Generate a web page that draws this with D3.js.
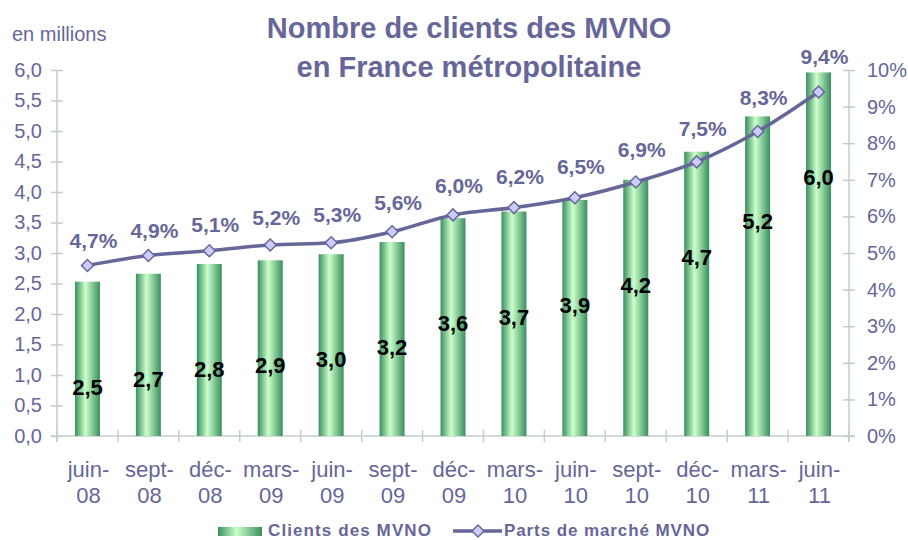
<!DOCTYPE html>
<html>
<head>
<meta charset="utf-8">
<script src="https://cdn.jsdelivr.net/npm/d3@7"></script>
<style>
  html, body { margin: 0; padding: 0; background: #fff; }
  svg { display: block; font-family: "Liberation Sans", Arial, sans-serif; }
</style>
</head>
<body>
<div class="container"></div>
<script>
const categories = ["juin-08", "sept-08", "déc-08", "mars-09", "juin-09", "sept-09", "déc-09",
  "mars-10", "juin-10", "sept-10", "déc-10", "mars-11", "juin-11"];
const clients = [2.53, 2.66, 2.82, 2.88, 2.98, 3.18, 3.57, 3.68, 3.87, 4.20, 4.66, 5.24, 5.96];
const parts = [4.66, 4.93, 5.06, 5.22, 5.28, 5.58, 6.04, 6.24, 6.51, 6.94, 7.49, 8.32, 9.40];
const leftTicks = [0, 0.5, 1, 1.5, 2, 2.5, 3, 3.5, 4, 4.5, 5, 5.5, 6];
const rightTicks = [0, 1, 2, 3, 4, 5, 6, 7, 8, 9, 10];
const titleLines = ["Nombre de clients des MVNO", "en France métropolitaine"];
const seriesNames = ["Clients des MVNO", "Parts de marché MVNO"];

const width = 908, height = 540;
const margin = { left: 57, right: 59, top: 70, bottom: 104 };
const textColor = "#666699";
const axisColor = "#c3cdcd";
const fr = d3.formatLocale({ decimal: ",", thousands: " ", grouping: [3], currency: ["", "€"] });
const fmt1 = fr.format(".1f");

function createChart() {
  const svg = d3.select(".container").append("svg")
    .attr("width", width).attr("height", height);

  const defs = svg.append("defs");
  const grad = defs.append("linearGradient").attr("id", "barGrad")
    .attr("x1", "0%").attr("x2", "100%").attr("y1", "0%").attr("y2", "0%");
  grad.append("stop").attr("offset", "0%").attr("stop-color", "#3a8f5e");
  grad.append("stop").attr("offset", "42%").attr("stop-color", "#ccffcc");
  grad.append("stop").attr("offset", "100%").attr("stop-color", "#3a8f5e");

  const x = d3.scaleBand().domain(categories)
    .range([margin.left, width - margin.right]).padding(0);
  const y = d3.scaleLinear().domain([0, 6]).range([height - margin.bottom, margin.top]);
  const yR = d3.scaleLinear().domain([0, 10]).range([height - margin.bottom, margin.top]);
  const y0 = height - margin.bottom;

  // title
  svg.append("g").selectAll("text").data(titleLines).enter().append("text")
    .attr("x", 469).attr("y", (d, i) => 38 + i * 39)
    .attr("text-anchor", "middle")
    .attr("fill", textColor).attr("font-weight", "bold").attr("font-size", 29)
    .text(d => d);

  svg.append("text").attr("x", 12).attr("y", 41)
    .attr("fill", textColor).attr("font-size", 20).text("en millions");

  // left axis
  const yAxis = d3.axisLeft(y).tickValues(leftTicks).tickFormat(fmt1)
    .tickSizeInner(6).tickSizeOuter(0).tickPadding(9);
  const gL = svg.append("g").attr("transform", `translate(${margin.left},0)`).call(yAxis);
  gL.selectAll(".tick line").attr("x2", -6).attr("x1", 6);

  // right axis
  const yAxisR = d3.axisRight(yR).tickValues(rightTicks).tickFormat(d => d + "%")
    .tickSizeInner(6).tickSizeOuter(0).tickPadding(12);
  const gR = svg.append("g").attr("transform", `translate(${width - margin.right},0)`).call(yAxisR);
  gR.selectAll(".tick line").attr("x1", -6).attr("x2", 6);

  [gL, gR].forEach(g => {
    g.select(".domain").attr("stroke", axisColor).attr("stroke-width", 1.5)
      .attr("d", `M0,${margin.top}V${y0 + 6}`);
    g.selectAll(".tick line").attr("stroke", axisColor).attr("stroke-width", 1.5);
    g.selectAll(".tick text").attr("fill", textColor).attr("font-size", 20)
      .attr("font-family", "Liberation Sans, Arial, sans-serif");
  });

  // x axis
  const gX = svg.append("g");
  gX.append("line").attr("x1", margin.left - 6).attr("x2", width - margin.right + 6)
    .attr("y1", y0).attr("y2", y0).attr("stroke", axisColor).attr("stroke-width", 1.5);
  gX.selectAll("line.tk").data(d3.range(categories.length + 1)).enter().append("line")
    .attr("class", "tk")
    .attr("x1", i => margin.left + i * x.step()).attr("x2", i => margin.left + i * x.step())
    .attr("y1", y0 - 6).attr("y2", y0 + 6)
    .attr("stroke", axisColor).attr("stroke-width", 1.5);
  const lbl = gX.selectAll("text").data(categories).enter().append("text")
    .attr("x", d => x(d) + x.bandwidth() / 2 + 1)
    .attr("text-anchor", "middle").attr("fill", textColor).attr("font-size", 22);
  lbl.append("tspan").attr("x", d => x(d) + x.bandwidth() / 2 + 1).attr("y", 477)
    .text(d => d.split("-")[0] + "-");
  lbl.append("tspan").attr("x", d => x(d) + x.bandwidth() / 2 + 1).attr("y", 503)
    .text(d => d.split("-")[1]);

  // bars
  const bw = x.bandwidth() * 0.41;
  svg.append("g").selectAll("rect").data(clients).enter().append("rect")
    .attr("x", (d, i) => x(categories[i]) + (x.bandwidth() - bw) / 2)
    .attr("y", d => y(d))
    .attr("width", bw)
    .attr("height", d => y0 - y(d))
    .attr("fill", "url(#barGrad)");

  svg.append("g").selectAll("text").data(clients).enter().append("text")
    .attr("x", (d, i) => x(categories[i]) + x.bandwidth() / 2)
    .attr("y", d => y(d) + 113)
    .attr("text-anchor", "middle").attr("font-weight", "bold").attr("font-size", 22)
    .attr("fill", "#000").text(d => fmt1(d));

  // line
  const line = d3.line()
    .x((d, i) => x(categories[i]) + x.bandwidth() / 2)
    .y(d => yR(d))
    .curve(d3.curveMonotoneX);
  svg.append("path").datum(parts).attr("d", line)
    .attr("fill", "none").attr("stroke", textColor).attr("stroke-width", 3.5);

  const diamond = d3.symbol().type(d3.symbolSquare).size(72);
  svg.append("g").selectAll("path").data(parts).enter().append("path")
    .attr("d", diamond)
    .attr("transform", (d, i) => `translate(${x(categories[i]) + x.bandwidth() / 2},${yR(d)}) rotate(45)`)
    .attr("fill", "#ccccff").attr("stroke", textColor).attr("stroke-width", 1.5);

  svg.append("g").selectAll("text").data(parts).enter().append("text")
    .attr("x", (d, i) => x(categories[i]) + x.bandwidth() / 2 + 6)
    .attr("y", (d, i) => yR(d) - 17 - i * 0.9)
    .attr("text-anchor", "middle").attr("font-weight", "bold").attr("font-size", 21)
    .attr("fill", textColor).text(d => fmt1(d) + "%");

  // legend
  const lg = svg.append("g");
  lg.append("rect").attr("x", 218).attr("y", 527).attr("width", 44).attr("height", 9)
    .attr("fill", "url(#barGrad)");
  lg.append("text").attr("x", 268).attr("y", 536).attr("fill", textColor)
    .attr("font-weight", "bold").attr("font-size", 17).attr("letter-spacing", 1.1)
    .text(seriesNames[0]);
  lg.append("line").attr("x1", 453).attr("x2", 502).attr("y1", 531).attr("y2", 531)
    .attr("stroke", textColor).attr("stroke-width", 3.5);
  lg.append("path").attr("d", diamond)
    .attr("transform", "translate(478,531) rotate(45)")
    .attr("fill", "#ccccff").attr("stroke", textColor).attr("stroke-width", 1.5);
  lg.append("text").attr("x", 504).attr("y", 536).attr("fill", textColor)
    .attr("font-weight", "bold").attr("font-size", 17).attr("letter-spacing", 0.9)
    .text(seriesNames[1]);
}

document.addEventListener("DOMContentLoaded", createChart);
</script>
</body>
</html>
